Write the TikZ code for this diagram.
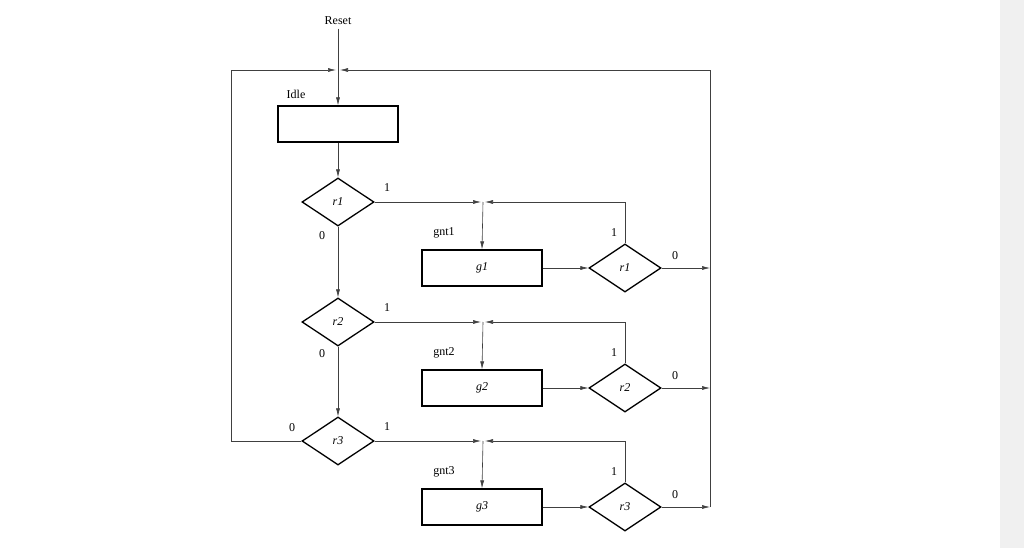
\documentclass[tikz,border=0pt]{standalone}
\usepackage{fontspec}
\setmainfont{Liberation Serif}
\usetikzlibrary{shapes.geometric,arrows.meta,calc}
\begin{document}
\begin{tikzpicture}[x=1pt,y=-1pt,
  box/.style={draw,line width=1.3pt,minimum width=120pt,minimum height=36pt,inner sep=0pt,font=\fontsize{12}{14}\selectfont\itshape},
  dia/.style={draw,diamond,line width=1.3pt,minimum width=72pt,minimum height=48pt,inner sep=0pt,aspect=1.5,font=\fontsize{12}{14}\selectfont\itshape},
  lbl/.style={font=\fontsize{12}{14}\selectfont},
  ln/.style={draw=black!75,line width=0.6pt},
  arr/.style={ln,-{Latex[length=8pt,width=4pt]}}]
\fill[white] (0,0) rectangle (1024,548);
\fill[black!6] (1000,0) rectangle (1024,548);
\useasboundingbox (0,0) rectangle (1024,548);
\node[lbl] (reset) at (338,21) {Reset};
\node[box] (idle) at (338,124) {};
\node[lbl] at (296,94) {Idle};
\coordinate (top) at (338,70);
\coordinate (tl) at (231,70);
\coordinate (tr) at (710,70);
\draw[arr] (reset.south) -- (idle.north);
\foreach \i/\y in {1/202,2/322,3/441}{
  \pgfmathsetmacro\yy{\y+66}
  \node[dia] (r\i) at (338,\y) {r\i};
  \node[box] (g\i) at (482,\yy) {g\i};
  \node[dia] (s\i) at (625,\yy) {r\i};
  \coordinate (j\i) at (483,\y);
  \coordinate (o\i) at (710,\yy);
  \node[lbl] at (444,\y+31) {gnt\i};
  \node[lbl] at (387,\y-14) {1};
  \node[lbl] at (614,\y+31) {1};
  \node[lbl] at (675,\y+54) {0};
  \draw[arr] (r\i.east) -- ($(j\i)+(-2,0)$);
  \draw[arr] (s\i.north) |- ($(j\i)+(2,0)$);
  \draw[arr] (j\i) -- (g\i.north);
  \draw[arr] (g\i.east) -- (s\i.west);
  \draw[arr] (s\i.east) -- (o\i);
}
\node[lbl] at (322,236) {0};
\node[lbl] at (322,354) {0};
\node[lbl] at (292,428) {0};
\draw[arr] (idle.south) -- (r1.north);
\draw[arr] (r1.south) -- (r2.north);
\draw[arr] (r2.south) -- (r3.north);
\draw[arr] (r3.west) -| (tl) -- ($(top)+(-2,0)$);
\draw[arr] (o3) -- (tr) -- ($(top)+(2,0)$);
\end{tikzpicture}
\end{document}
